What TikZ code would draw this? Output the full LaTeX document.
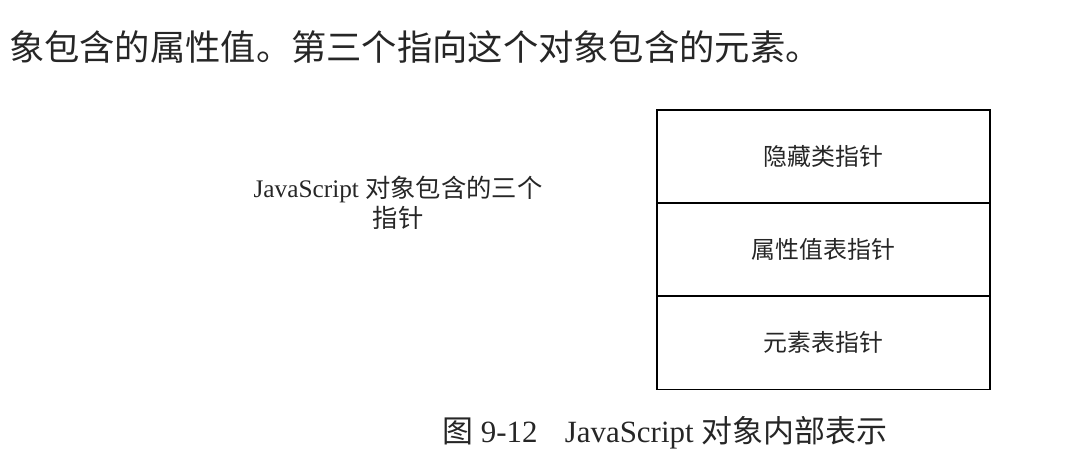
\documentclass[tikz,border=0pt]{standalone}
\usepackage{fontspec}
\setmainfont{Liberation Serif}
\newfontfamily\cjk{Noto Sans CJK SC}
\usetikzlibrary{positioning}

\begin{document}
\begin{tikzpicture}[node distance=0pt,
    cell/.style={draw,line width=1.2pt,outer sep=0pt,minimum width=8.325cm,minimum height=2.33cm,
                 inner sep=0pt,font=\cjk\fontsize{17}{20}\selectfont,text=black!85},
    lbl/.style={inner sep=0pt,text=black!85}]
        \useasboundingbox (0,0) rectangle (26.7,-11.8);
        % running text above the figure
        \node[lbl,anchor=west,font=\cjk\fontsize{25.1}{28}\selectfont] (intro) at (0.22,-1.18)
            {象包含的属性值。第三个指向这个对象包含的元素。};
        % the three pointers
        \node[cell] (hidden) at (20.59,-3.91) {隐藏类指针};
        \node[cell] (props) [below=of hidden] {属性值表指针};
        \node[cell] (elems) [below=of props] {元素表指针};
        \node[lbl,align=center,font=\fontsize{18}{21.3}\selectfont] (note) at (9.95,-5.08)
            {JavaScript {\cjk 对象包含的三个}\\{\cjk 指针}};
        % caption
        \node[lbl,anchor=west,font=\fontsize{22}{24}\selectfont] (caption) at (11.05,-10.83)
            {{\cjk 图} 9-12\hspace{0.68cm}JavaScript {\cjk 对象内部表示}};
    \end{tikzpicture}
\end{document}
